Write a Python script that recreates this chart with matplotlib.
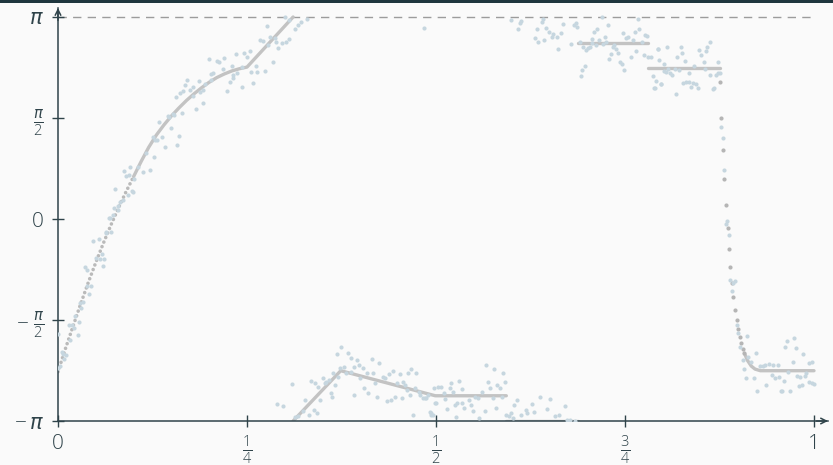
import numpy as np
import matplotlib.pyplot as plt
from matplotlib.patches import Rectangle

# all phase values below are in units of pi

# fitted phase: steep start (drawn dotted) and the smooth rise
start_x = [0.0, 0.01, 0.02, 0.03, 0.04, 0.05, 0.06, 0.07, 0.08, 0.09, 0.10]
start_y = [-0.756, -0.64, -0.53, -0.42, -0.315, -0.215, -0.12, -0.03, 0.055, 0.135, 0.21]
rise_x = [0.10, 0.11, 0.12, 0.13, 0.14, 0.15, 0.16, 0.17, 0.18, 0.19, 0.20, 0.21,
          0.22, 0.23, 0.24, 0.25, 0.311]
rise_y = [0.21, 0.285, 0.355, 0.415, 0.465, 0.51, 0.55, 0.587, 0.62, 0.65, 0.677, 0.70,
          0.718, 0.733, 0.744, 0.752, 1.0]

# wrapped segments of the fitted phase
wrap_x = [0.311, 0.374, 0.499, 0.593]
wrap_y = [-1.0, -0.751, -0.875, -0.875]
floor_x = [0.593, 0.688]
floor_y = [-1.0, -1.0]
step1_x = [0.688, 0.781]
step1_y = [0.873, 0.873]
step2_x = [0.781, 0.875]
step2_y = [0.746, 0.746]
tail_x = [0.908, 0.912, 0.917, 0.922, 0.929, 1.0]
tail_y = [-0.665, -0.70, -0.728, -0.743, -0.751, -0.751]

# fitted phase in the fast drop, sampled points
drop_x = [0.876, 0.877, 0.880, 0.881, 0.884, 0.886, 0.888, 0.889, 0.891, 0.893,
          0.896, 0.898, 0.899, 0.902, 0.903, 0.906, 0.908]
drop_y = [0.677, 0.50, 0.34, 0.197, 0.068, -0.046, -0.149, -0.239, -0.317, -0.388,
          -0.449, -0.50, -0.546, -0.584, -0.615, -0.642, -0.665]

# measured phase, rising branch
meas_rise_x = [0.0, 0.005, 0.007, 0.011, 0.008, 0.002, 0.0, 0.014, 0.019, 0.021, 0.016,
               0.026, 0.028, 0.029, 0.033, 0.031, 0.023, 0.041, 0.039, 0.043, 0.036, 0.038,
               0.046, 0.054, 0.050, 0.056, 0.061, 0.060, 0.058, 0.064, 0.070, 0.063, 0.067,
               0.073, 0.069, 0.074, 0.080, 0.080, 0.082, 0.086, 0.075, 0.092, 0.099, 0.098,
               0.090, 0.094, 0.100, 0.087, 0.095, 0.106, 0.112, 0.122, 0.117, 0.127, 0.126,
               0.128, 0.131, 0.138, 0.142, 0.158, 0.160, 0.149, 0.134, 0.147, 0.152, 0.146,
               0.153, 0.164, 0.182, 0.192, 0.156, 0.179, 0.161, 0.166, 0.168, 0.175, 0.179,
               0.170, 0.186, 0.188, 0.192, 0.194, 0.203, 0.202, 0.205, 0.224, 0.228, 0.232,
               0.244, 0.258, 0.218, 0.232, 0.237, 0.255, 0.263, 0.274, 0.243, 0.230, 0.262,
               0.213, 0.210, 0.200, 0.220, 0.250, 0.236, 0.246, 0.254, 0.284, 0.278, 0.291,
               0.267, 0.271, 0.280, 0.287, 0.288, 0.296, 0.302, 0.306, 0.276, 0.300, 0.305,
               0.313, 0.322, 0.329, 0.317]
meas_rise_y = [-0.57, -0.66, -0.67, -0.675, -0.695, -0.73, -0.74, -0.525, -0.525, -0.54, -0.60,
               -0.575, -0.51, -0.415, -0.41, -0.44, -0.48, -0.37, -0.33, -0.33, -0.236, -0.25,
               -0.11, -0.10, -0.195, -0.20, -0.196, -0.233, -0.173, -0.064, -0.063, -0.068, 0.003,
               0.02, 0.003, 0.053, 0.045, 0.064, 0.086, 0.094, 0.147, 0.119, 0.135, 0.14,
               0.213, 0.218, 0.20, 0.239, 0.259, 0.259, 0.232, 0.243, 0.325, 0.305, 0.404,
               0.391, 0.391, 0.407, 0.358, 0.366, 0.411, 0.449, 0.479, 0.506, 0.52, 0.51,
               0.515, 0.526, 0.543, 0.576, 0.603, 0.609, 0.625, 0.634, 0.663, 0.639, 0.652,
               0.69, 0.685, 0.63, 0.639, 0.668, 0.688, 0.718, 0.724, 0.634, 0.68, 0.697,
               0.655, 0.672, 0.741, 0.711, 0.721, 0.726, 0.726, 0.733, 0.75, 0.755, 0.757,
               0.777, 0.784, 0.794, 0.796, 0.80, 0.815, 0.82, 0.833, 0.776, 0.861, 0.845,
               0.886, 0.883, 0.903, 0.895, 0.878, 0.87, 0.878, 0.89, 0.955, 0.999, 0.985,
               0.939, 0.977, 0.989, 0.96]

# measured phase, lower wrapped branch
meas_low_x = [0.290, 0.298, 0.310, 0.313, 0.317, 0.327, 0.324, 0.332, 0.334, 0.338, 0.340,
              0.342, 0.344, 0.347, 0.350, 0.353, 0.355, 0.358, 0.361, 0.362, 0.364, 0.366,
              0.369, 0.371, 0.374, 0.373, 0.378, 0.383, 0.381, 0.387, 0.388, 0.391, 0.395,
              0.398, 0.399, 0.404, 0.405, 0.409, 0.410, 0.391, 0.415, 0.417, 0.419, 0.422,
              0.425, 0.430, 0.433, 0.435, 0.438, 0.440, 0.443, 0.446, 0.448, 0.452, 0.455,
              0.457, 0.459, 0.461, 0.463, 0.465, 0.467, 0.470, 0.472, 0.474, 0.477, 0.479,
              0.483, 0.487, 0.490, 0.492, 0.494, 0.497, 0.499, 0.503, 0.485, 0.493, 0.496,
              0.506, 0.500, 0.510, 0.512, 0.514, 0.518, 0.520, 0.522, 0.525, 0.527, 0.528,
              0.531, 0.534, 0.535, 0.537, 0.543, 0.546, 0.549, 0.552, 0.555, 0.557, 0.561,
              0.565, 0.566, 0.569, 0.571, 0.575, 0.577, 0.579, 0.581, 0.584, 0.587, 0.589,
              0.591, 0.593, 0.596, 0.599, 0.602, 0.603, 0.607, 0.613, 0.619, 0.621, 0.627,
              0.629, 0.637, 0.647, 0.651, 0.657, 0.663, 0.671, 0.673, 0.677, 0.684]
meas_low_y = [-0.914, -0.927, -0.815, -0.982, -0.975, -0.896, -0.949, -0.97, -0.80, -0.946, -0.813,
              -0.962, -0.83, -0.896, -0.789, -0.813, -0.805, -0.797, -0.863, -0.879, -0.764, -0.822,
              -0.668, -0.78, -0.632, -0.739, -0.734, -0.662, -0.761, -0.69, -0.756, -0.734, -0.698,
              -0.723, -0.789, -0.739, -0.838, -0.764, -0.859, -0.871, -0.693, -0.761, -0.813, -0.879,
              -0.714, -0.78, -0.789, -0.899, -0.767, -0.896, -0.751, -0.879, -0.813, -0.767, -0.888,
              -0.805, -0.822, -0.847, -0.761, -0.871, -0.744, -0.97, -0.838, -0.764, -0.855, -0.871,
              -0.888, -0.888, -0.871, -0.954, -0.97, -0.838, -0.912, -0.83, -0.888, -0.958, -0.97,
              -0.833, -0.912, -0.859, -0.892, -0.942, -0.838, -0.813, -0.855, -0.921, -0.982, -0.912,
              -0.80, -0.909, -0.843, -0.937, -0.896, -0.921, -0.949, -0.879, -0.888, -0.987, -0.855,
              -0.949, -0.723, -0.805, -0.838, -0.888, -0.744, -0.937, -0.822, -0.838, -0.882, -0.764,
              -0.809, -0.97, -0.975, -0.962, -0.987, -0.921, -0.896, -0.97, -0.946, -0.962, -0.916,
              -0.954, -0.882, -0.942, -0.892, -0.975, -0.97, -0.926, -0.995, -0.995, -0.998]

# measured phase, upper steps
meas_top_x = [0.484, 0.599, 0.609, 0.611, 0.613, 0.631, 0.635, 0.633, 0.640, 0.641, 0.643,
              0.646, 0.649, 0.653, 0.655, 0.660, 0.661, 0.665, 0.668, 0.679, 0.682, 0.685,
              0.687, 0.690, 0.692, 0.693, 0.697, 0.695, 0.699, 0.701, 0.704, 0.706, 0.707,
              0.709, 0.712, 0.713, 0.716, 0.719, 0.721, 0.724, 0.725, 0.727, 0.729, 0.731,
              0.734, 0.736, 0.738, 0.741, 0.743, 0.746, 0.747, 0.749, 0.751, 0.754, 0.758,
              0.760, 0.763, 0.765, 0.767, 0.769, 0.772, 0.775, 0.777, 0.781, 0.784, 0.787,
              0.791, 0.789, 0.793, 0.795, 0.779, 0.794, 0.802, 0.805, 0.801, 0.804, 0.807,
              0.810, 0.812, 0.797, 0.790, 0.798, 0.816, 0.819, 0.822, 0.824, 0.826, 0.829,
              0.818, 0.827, 0.831, 0.834, 0.835, 0.837, 0.840, 0.841, 0.844, 0.846, 0.848,
              0.850, 0.854, 0.856, 0.857, 0.859, 0.863, 0.862, 0.866, 0.868, 0.870, 0.873,
              0.873, 0.876]
meas_top_y = [0.945, 0.985, 0.941, 0.969, 0.98, 0.895, 0.875, 0.941, 0.977, 0.99, 0.886,
              0.947, 0.928, 0.903, 0.914, 0.90, 0.84, 0.919, 0.964, 0.865, 0.958, 0.972,
              0.95, 0.878, 0.709, 0.738, 0.759, 0.853, 0.837, 0.845, 0.853, 0.89, 0.87,
              0.924, 0.861, 0.941, 0.886, 0.999, 0.865, 0.903, 0.878, 0.958, 0.792, 0.815,
              0.853, 0.861, 0.842, 0.82, 0.776, 0.769, 0.919, 0.738, 0.895, 0.903, 0.803,
              0.886, 0.924, 0.833, 0.99, 0.941, 0.878, 0.812, 0.911, 0.80, 0.803, 0.709,
              0.683, 0.65, 0.842, 0.787, 0.906, 0.84, 0.767, 0.85, 0.734, 0.729, 0.741,
              0.721, 0.713, 0.668, 0.647, 0.668, 0.741, 0.803, 0.738, 0.853, 0.82, 0.782,
              0.617, 0.675, 0.68, 0.68, 0.725, 0.655, 0.675, 0.757, 0.668, 0.647, 0.837,
              0.812, 0.779, 0.741, 0.833, 0.853, 0.874, 0.713, 0.642, 0.647, 0.713, 0.779,
              0.721, 0.725]

# measured phase, drop and settled tail
meas_tail_x = [0.877, 0.880, 0.881, 0.884, 0.885, 0.888, 0.889, 0.892, 0.893, 0.896, 0.898,
               0.900, 0.902, 0.906, 0.908, 0.910, 0.912, 0.913, 0.917, 0.920, 0.923, 0.925,
               0.928, 0.932, 0.935, 0.937, 0.940, 0.944, 0.946, 0.948, 0.952, 0.954, 0.956,
               0.958, 0.960, 0.962, 0.964, 0.966, 0.968, 0.972, 0.974, 0.976, 0.978, 0.980,
               0.982, 0.984, 0.986, 0.988, 0.990, 0.993, 0.994, 0.997, 0.998, 1.0]
meas_tail_y = [0.454, 0.401, 0.241, -0.025, -0.01, -0.081, -0.303, -0.355, -0.318, -0.309, -0.523,
               -0.566, -0.632, -0.698, -0.744, -0.789, -0.579, -0.685, -0.706, -0.785, -0.665, -0.85,
               -0.728, -0.728, -0.723, -0.822, -0.718, -0.772, -0.723, -0.789, -0.723, -0.78, -0.85,
               -0.85, -0.802, -0.632, -0.604, -0.756, -0.85, -0.706, -0.587, -0.64, -0.777, -0.827,
               -0.78, -0.822, -0.668, -0.777, -0.764, -0.805, -0.711, -0.81, -0.706, -0.817]

ytick_vals = [-1, -0.5, 0, 0.5, 1]
ytick_labels = [r'$-\,\pi$', r'$-\;\frac{\pi}{2}$', '0', r'$\frac{\pi}{2}$', r'$\pi$']
xtick_vals = [0, 0.25, 0.5, 0.75, 1]
xtick_labels = ['0', r'$\frac{1}{4}$', r'$\frac{1}{2}$', r'$\frac{3}{4}$', '1']

ink = '#2f434a'
line_grey = '#c3c3c3'
dot_blue = '#c6d6df'

plt.rcParams['font.family'] = ['Open Sans', 'DejaVu Sans']
plt.rcParams['font.weight'] = 'light'
plt.rcParams['mathtext.fontset'] = 'custom'
plt.rcParams['mathtext.rm'] = 'Open Sans:light'
plt.rcParams['mathtext.it'] = 'DejaVu Sans:italic'

fig = plt.figure(figsize=(8.33, 4.65), dpi=100, facecolor='#fafafa')
fig.patches.append(Rectangle((0, 1 - 3 / 465), 1, 3 / 465, transform=fig.transFigure,
                             facecolor='#1f363e', edgecolor='none'))
ax = fig.add_axes([58 / 833, 44 / 465, 770 / 833, 413 / 465])
ax.set_facecolor('#fafafa')

ax.set_xlim(0, 770 / 756)
ax.set_ylim(-1, -1 + 413 / 202)

# dashed line at +pi
ax.plot([0, 1], [1, 1], color='#9c9c9c', lw=1, dashes=(6, 4.5), zorder=1)

# fitted phase
ax.plot(start_x, start_y, color='#bababa', lw=2.6, linestyle=(0, (0.01, 1.35)),
        dash_capstyle='round', zorder=2)
for xs, ys in [(rise_x, rise_y), (wrap_x, wrap_y), (floor_x, floor_y), (step1_x, step1_y),
               (step2_x, step2_y), (tail_x, tail_y)]:
    ax.plot(xs, ys, color=line_grey, lw=2.4, solid_capstyle='round', zorder=2)
ax.scatter(drop_x, drop_y, s=9, color='#b5b5b5', linewidths=0, zorder=3)

# measured phase
for xs, ys in [(meas_rise_x, meas_rise_y), (meas_low_x, meas_low_y),
               (meas_top_x, meas_top_y), (meas_tail_x, meas_tail_y)]:
    ax.scatter(xs, ys, s=9, color=dot_blue, linewidths=0, zorder=3)

for side in ['top', 'right']:
    ax.spines[side].set_visible(False)
for side in ['left', 'bottom']:
    ax.spines[side].set_color(ink)
    ax.spines[side].set_linewidth(1.1)

ax.annotate('', xy=(1, 0), xycoords='axes fraction', xytext=(0.985, 0),
            arrowprops=dict(arrowstyle='->', color=ink, lw=1.1, shrinkA=0, shrinkB=0,
                            mutation_scale=10))
ax.annotate('', xy=(0, 1), xycoords='axes fraction', xytext=(0, 0.97),
            arrowprops=dict(arrowstyle='->', color=ink, lw=1.1, shrinkA=0, shrinkB=0,
                            mutation_scale=10))

ax.set_yticks(ytick_vals)
ax.set_yticklabels(ytick_labels)
ax.set_xticks(xtick_vals)
ax.set_xticklabels(xtick_labels)
ax.tick_params(direction='inout', length=8, width=1, color=ink, labelcolor=ink,
               labelsize=15)
ax.tick_params(axis='y', pad=6)
ax.tick_params(axis='x', pad=5)

fig.savefig('out.png', dpi=100, facecolor=fig.get_facecolor())
